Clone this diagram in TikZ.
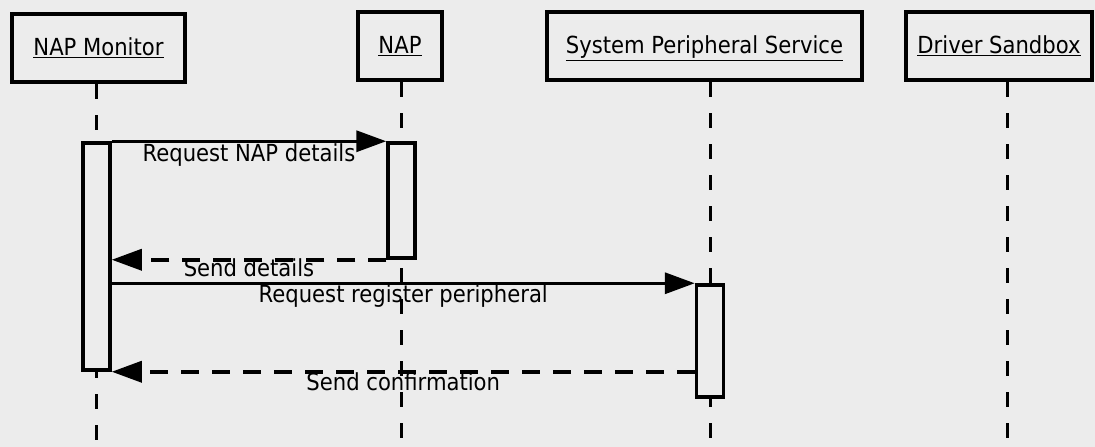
\documentclass[tikz,border=0pt]{standalone}
\usepackage{fontspec}
\setsansfont{DejaVu Sans Condensed}
\usepackage{tikz}
\usetikzlibrary{arrows.meta,positioning,calc}
\definecolor{scanGray}{HTML}{ECECEC}

\begin{document}
\begin{tikzpicture}[x=1pt,y=-1pt,font=\sffamily\fontsize{23.5}{26}\selectfont,>={Triangle[length=30pt,width=21pt]},
  actor/.style={draw,line width=4.5pt,minimum height=68pt,inner sep=0pt,text depth=2pt},
  act/.style={draw,line width=3.5pt,fill=scanGray,minimum width=27pt,inner sep=0pt},
  life/.style={line width=3pt,dash pattern=on 15pt off 16pt},
  msg/.style={line width=3.5pt,->},
  reply/.style={msg,dash pattern=on 18pt off 13pt},
  lbl/.style={font=\sffamily\fontsize{23.5}{26}\selectfont,inner sep=0pt,text height=15pt,text depth=5pt}]
  \path[use as bounding box,fill=scanGray] (0,0) rectangle (1095,447);
  % lifeline heads
  \node[actor,minimum width=173pt] (mon) at (98.5,48) {\underline{NAP Monitor}};
  \node[actor,minimum width=84pt] (nap) at (400,46) {\underline{NAP}};
  \node[actor,minimum width=315pt] (sps) at (704.5,46) {\underline{System Peripheral Service}};
  \node[actor,minimum width=186pt] (ds) at (999,46) {\underline{Driver Sandbox}};
  \coordinate (bot) at (0,450);
  \coordinate (dsLine) at (1007,450);
  % activations (positions only, drawn after the lifelines)
  \path (96.5,143) coordinate (monTop) (96.5,370) coordinate (monBot)
        (401.5,143) coordinate (napTop) (401.5,258) coordinate (napBot)
        (710,285) coordinate (spsTop) (710,397) coordinate (spsBot);
  \draw[life] (mon.south -| monTop) -- (monTop |- bot);
  \draw[life] (nap.south -| napTop) -- (napTop |- bot);
  \draw[life] (sps.south -| spsTop) -- (spsTop |- bot);
  \draw[life] (ds.south -| dsLine) -- (dsLine);
  \node[act,minimum height=227pt] (monAct) at ($(monTop)!.5!(monBot)$) {};
  \node[act,minimum height=115pt] (napAct) at ($(napTop)!.5!(napBot)$) {};
  \node[act,minimum height=112pt] (spsAct) at ($(spsTop)!.5!(spsBot)$) {};
  % messages
  \draw[msg] (monAct.north east) -- node[lbl,below=3pt]{Request NAP details} (napAct.north west);
  \draw[reply] (napAct.south west) -- node[lbl,below=0pt]{Send details} (monAct.east |- napAct.south);
  \draw[msg] (monAct.east |- spsAct.north) -- node[lbl,below=2pt]{Request register peripheral} (spsAct.north west);
  \draw[reply] (spsAct.west |- monAct.south) -- node[lbl,below=2pt]{Send confirmation} (monAct.south east);
\end{tikzpicture}
\end{document}
